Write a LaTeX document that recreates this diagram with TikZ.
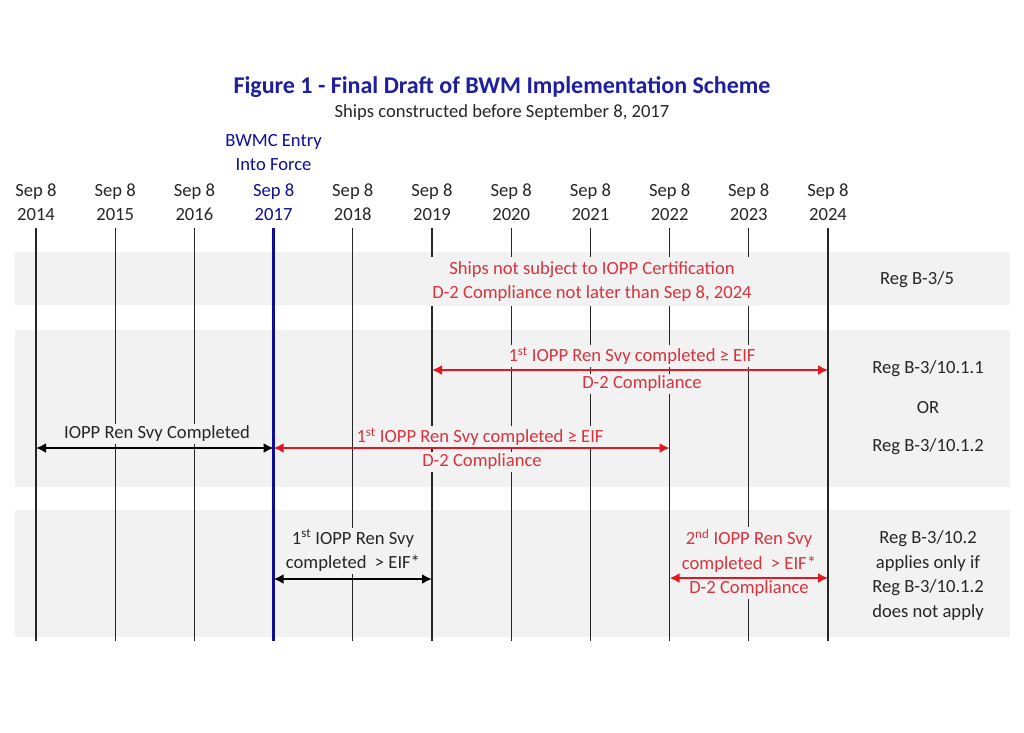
\documentclass[tikz,border=0pt]{standalone}
\usepackage{fontspec}
\setmainfont{Carlito}
\usepackage{tikz}
\usetikzlibrary{arrows.meta,positioning}
\definecolor{bandgray}{RGB}{242,242,242}
\definecolor{titleblue}{RGB}{30,30,160}
\definecolor{eifblue}{RGB}{14,14,150}
\definecolor{txtred}{RGB}{214,52,62}
\definecolor{arrred}{RGB}{228,22,34}
\begin{document}
\begin{tikzpicture}[% styles for the whole scheme
			x=1pt,y=-1pt,
			every node/.style={
				align=center,		% "\\" breaks the lines
				inner sep=1pt,
				text=black!85,
				font=\fontsize{18.6}{24.5}\selectfont
			},
			redtxt/.style={text=txtred,fill=bandgray,inner xsep=4pt,inner ysep=2pt},
			blktxt/.style={fill=bandgray,inner xsep=4pt,inner ysep=2pt},
			yearline/.style={draw=black!85,line width=1.1pt},
			span/.style={line width=2pt,{Latex[length=10pt,width=10pt]}-{Latex[length=10pt,width=10pt]}},
			every edge/.style={draw}
		]
		\useasboundingbox (0,0) rectangle (1024,732);
		% heading
		\node[font=\fontsize{24}{28}\selectfont\bfseries,text=titleblue](title) at (502,87){Figure 1 - Final Draft of BWM Implementation Scheme};
		\node(sub) at (502,113){Ships constructed before September 8, 2017};
		\node[text=eifblue](eif) at (273.6,152.5){BWMC Entry \\ Into Force};
		% bands
		\fill[bandgray] (15,252) rectangle (1010,305);
		\fill[bandgray] (15,330) rectangle (1010,487);
		\fill[bandgray] (15,510) rectangle (1010,637);
		% years and their lines
		\foreach \yr/\col [count=\i from 0] in {2014/black!85,2015/black!85,2016/black!85,2017/eifblue,2018/black!85,2019/black!85,2020/black!85,2021/black!85,2022/black!85,2023/black!85,2024/black!85}{
			\pgfmathsetmacro\xx{36+79.2*\i}
			\node[text=\col](yr\yr) at (\xx,202){Sep 8 \\ \yr};
			\coordinate(top\yr) at (\xx,228);
			\coordinate(bot\yr) at (\xx,641);
			\path[yearline] (top\yr) -- (bot\yr);
		}
		\path[draw=eifblue,line width=3pt] (top2017) -- (bot2017);
		% Reg B-3/5
		\node[redtxt,inner xsep=6pt,inner ysep=4pt](notiopp) at (592,281.5){Ships not subject to IOPP Certification \\ D-2 Compliance not later than Sep 8, 2024};
		\node(reg35) at (917,280){Reg B-3/5};
		% Reg B-3/10.1.1 or 10.1.2
		\node[redtxt](first1) at (632,356){1\textsuperscript{st} IOPP Ren Svy completed ≥ EIF};
		\node[redtxt](dtwo1) at (642,384){D-2 Compliance};
		\node[blktxt](ioppdone) at (157,434){IOPP Ren Svy Completed};
		\node[redtxt](first2) at (480,437){1\textsuperscript{st} IOPP Ren Svy completed ≥ EIF};
		\node[redtxt](dtwo2) at (482,462){D-2 Compliance};
		\node(reg1011) at (928,369){Reg B-3/10.1.1};
		\node(regor) at (928,408){OR};
		\node(reg1012) at (928,447){Reg B-3/10.1.2};
		% Reg B-3/10.2
		\node[blktxt](first3) at (353,550.5){1\textsuperscript{st} IOPP Ren Svy \\ completed~ > EIF*};
		\node[redtxt](second) at (749,563){2\textsuperscript{nd} IOPP Ren Svy \\ completed~ > EIF* \\ D-2 Compliance};
		\node(reg102) at (928,575.5){Reg B-3/10.2 \\ applies only if \\ Reg B-3/10.1.2 \\ does not apply};
		% arrow ends
		\coordinate(a19) at (432,370);
		\coordinate(a24) at (828,370);
		\coordinate(b14) at (36,448);
		\coordinate(b17) at (273.6,448);
		\coordinate(b22) at (669.6,448);
		\coordinate(c17) at (273.6,579);
		\coordinate(c19) at (432,579);
		\coordinate(c22) at (669.6,578);
		\coordinate(c24) at (828,578);
		\path[span,arrred]
		(a19)edge[] (a24)
		(b17)edge[] (b22)
		(c22)edge[] (c24)
		;
		\path[span,black]
		(b14)edge[] (b17)
		(c17)edge[] (c19)
		;
	\end{tikzpicture}
\end{document}
